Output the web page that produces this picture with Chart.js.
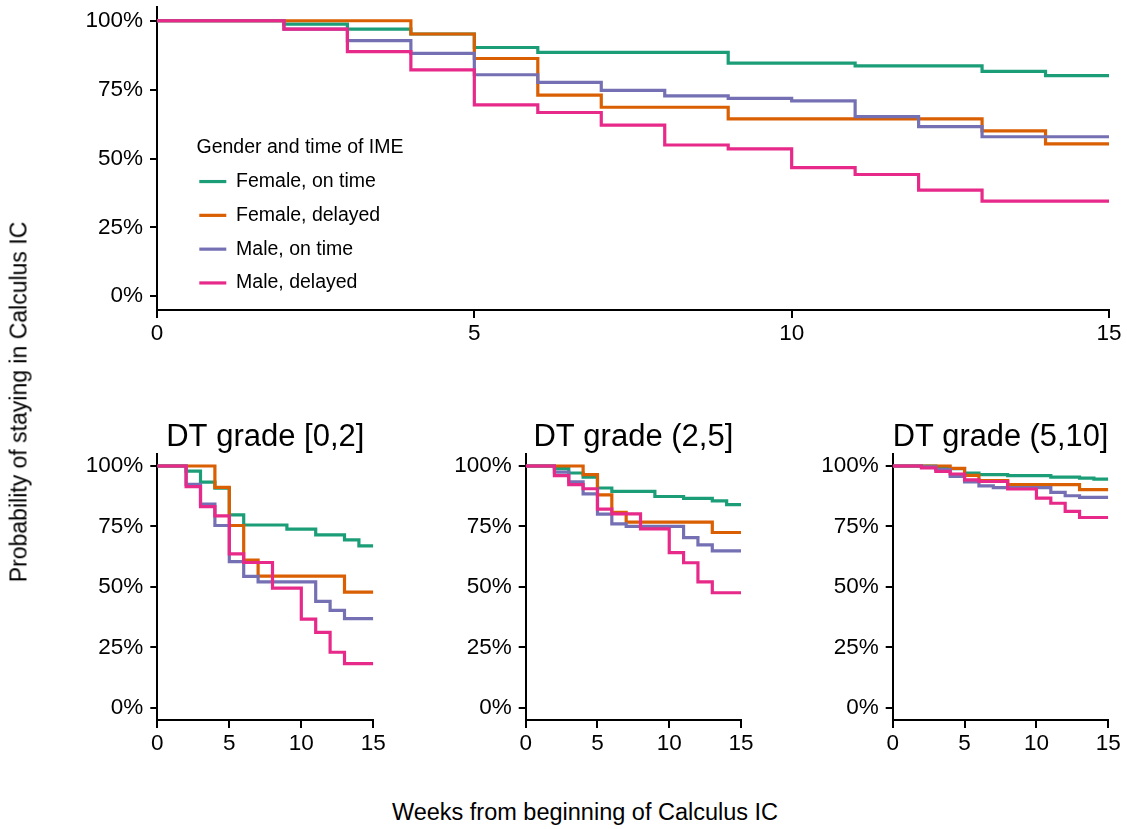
<!DOCTYPE html>
<html>
<head>
<meta charset="utf-8">
<script src="https://cdn.jsdelivr.net/npm/chart.js@4.4.1/dist/chart.umd.min.js"></script>
<style>
  body { margin: 0; background: #fff; }
  #page { position: relative; width: 1127px; height: 829px; overflow: hidden;
          font-family: 'Liberation Sans', Arial, sans-serif; color: #000; }
  canvas { position: absolute; }
  .axis-title { position: absolute; white-space: nowrap; font-size: 23px; }
  #ytitle { left: 19px; top: 402px; transform: translate(-50%, -50%) rotate(-90deg); }
  #xtitle { left: 585px; top: 812px; font-size: 23.5px; transform: translate(-50%, -50%); }
</style>
</head>
<body>
<div id="page">
  <canvas id="overall" width="1127" height="370" style="left:0;top:-20px"></canvas>
  <canvas id="grade1" width="400" height="370" style="left:0;top:400px"></canvas>
  <canvas id="grade2" width="380" height="370" style="left:380px;top:400px"></canvas>
  <canvas id="grade3" width="367" height="370" style="left:760px;top:400px"></canvas>
  <div class="axis-title" id="ytitle">Probability of staying in Calculus IC</div>
  <div class="axis-title" id="xtitle">Weeks from beginning of Calculus IC</div>
</div>
<script>
// weeks 0..15, survival (%) after the step at each week
const weeks = [0, 1, 2, 3, 4, 5, 6, 7, 8, 9, 10, 11, 12, 13, 14, 15];
const groups = ['Female, on time', 'Female, delayed', 'Male, on time', 'Male, delayed'];
const groupColors = ['#1b9e77', '#d95f02', '#7570b3', '#e7298a'];
const percentTicks = [0, 25, 50, 75, 100];
const panelTitles = ['DT grade [0,2]', 'DT grade (2,5]', 'DT grade (5,10]'];

// all students
const allFemaleOnTime  = [100, 100, 98.8, 97.0, 95.2, 90.3, 88.5, 88.5, 88.5, 84.6, 84.6, 83.6, 83.6, 81.6, 80.1, 80.1];
const allFemaleDelayed = [100, 100, 100, 100, 95.2, 86.3, 73.0, 68.6, 68.6, 64.4, 64.4, 64.4, 64.4, 60.0, 55.3, 55.3];
const allMaleOnTime    = [100, 100, 97.0, 92.8, 88.2, 80.4, 77.6, 74.7, 72.7, 71.8, 70.9, 65.2, 61.6, 57.9, 57.9, 57.9];
const allMaleDelayed   = [100, 100, 97.0, 88.8, 82.2, 69.5, 66.7, 62.1, 54.9, 53.5, 46.7, 44.2, 38.5, 34.5, 34.5, 34.5];

// DT grade [0,2]
const g1FemaleOnTime  = [100, 100, 97.9, 93.3, 90.8, 79.8, 75.6, 75.6, 75.6, 73.9, 73.9, 71.5, 71.5, 69.5, 67.0, 67.0];
const g1FemaleDelayed = [100, 100, 100, 100, 91.2, 75.4, 61.1, 54.5, 54.5, 54.5, 54.5, 54.5, 54.5, 47.9, 47.9, 47.9];
const g1MaleOnTime    = [100, 100, 92.4, 84.2, 75.4, 60.5, 54.4, 52.1, 52.1, 52.1, 52.1, 44.0, 40.3, 36.9, 36.9, 36.9];
const g1MaleDelayed   = [100, 100, 91.5, 83.2, 79.4, 63.7, 60.1, 60.1, 49.5, 49.5, 36.7, 31.2, 23.0, 18.3, 18.3, 18.3];

// DT grade (2,5]
const g2FemaleOnTime  = [100, 100, 98.9, 97.1, 95.4, 90.9, 89.5, 89.5, 89.5, 87.4, 87.4, 86.6, 86.6, 85.6, 84.0, 84.0];
const g2FemaleDelayed = [100, 100, 100, 100, 96.4, 88.1, 80.8, 76.8, 76.8, 76.8, 76.8, 76.8, 76.8, 72.5, 72.5, 72.5];
const g2MaleOnTime    = [100, 100, 97.5, 93.4, 88.5, 80.1, 76.1, 75.0, 75.0, 75.0, 75.0, 70.4, 67.4, 64.9, 64.9, 64.9];
const g2MaleDelayed   = [100, 100, 96.0, 92.3, 90.6, 82.2, 80.2, 80.2, 74.0, 74.0, 64.2, 60.0, 52.1, 47.6, 47.6, 47.6];

// DT grade (5,10]
const g3FemaleOnTime  = [100, 100, 100, 98.9, 98.9, 97.1, 96.4, 96.4, 96.0, 96.0, 96.0, 95.4, 95.4, 95.0, 94.6, 94.6];
const g3FemaleDelayed = [100, 100, 100, 100, 99.0, 96.1, 94.0, 94.0, 92.3, 92.3, 92.3, 92.3, 92.3, 90.2, 90.2, 90.2];
const g3MaleOnTime    = [100, 100, 99.6, 98.5, 95.7, 93.4, 91.8, 91.1, 91.1, 91.1, 91.1, 89.1, 87.7, 87.0, 87.0, 87.0];
const g3MaleDelayed   = [100, 100, 99.2, 97.8, 96.7, 94.3, 93.6, 93.6, 90.5, 90.5, 86.7, 84.6, 81.2, 78.7, 78.7, 78.7];

Chart.defaults.font.family = "'Liberation Sans', Arial, sans-serif";
Chart.defaults.color = '#000';
Chart.defaults.animation = false;

function buildDatasets(series) {
  return series.map((vals, i) => ({
    label: groups[i],
    data: weeks.map((w, k) => ({ x: w, y: vals[k] })),
    borderColor: groupColors[i],
    backgroundColor: groupColors[i],
    borderWidth: 3.2,
    pointRadius: 0,
    stepped: 'before',
    fill: false,
    order: series.length - i   // male, delayed drawn on top
  }));
}

function buildScales(yWidth, xHeight) {
  return {
    x: {
      type: 'linear',
      min: 0,
      max: 15,
      ticks: { stepSize: 5, padding: 2, maxRotation: 0, font: { size: 22.5 } },
      grid: { drawOnChartArea: false, tickLength: 8, color: '#000', lineWidth: 2 },
      border: { color: '#000', width: 2 },
      afterFit: s => { s.height = xHeight; }
    },
    y: {
      min: -5,
      max: 105,
      afterBuildTicks: s => { s.ticks = percentTicks.map(v => ({ value: v })); },
      ticks: { padding: 7, font: { size: 22.5, lineHeight: 0.6 }, callback: v => v + '%' },
      grid: { drawOnChartArea: false, tickLength: 7, color: '#000', lineWidth: 2 },
      border: { color: '#000', width: 2 },
      afterFit: s => { s.width = yWidth; }
    }
  };
}

// put the legend inside the plot, at the left
const legendPlacement = {
  id: 'legendPlacement',
  afterLayout(chart) {
    const lg = chart.legend;
    lg.left = chart.chartArea.left + 28;
    lg.top = chart.chartArea.top + 131;
    lg.width = 230;   // title is centred on this width
    lg.right = lg.left + 300;
    lg.bottom = lg.top + 220;
  }
};

new Chart(document.getElementById('overall'), {
  type: 'line',
  data: { datasets: buildDatasets([allFemaleOnTime, allFemaleDelayed, allMaleOnTime, allMaleDelayed]) },
  plugins: [legendPlacement],
  options: {
    responsive: false,
    layout: { autoPadding: false, padding: { top: 27, right: 18, left: 0, bottom: 0 } },
    plugins: {
      tooltip: { enabled: false },
      legend: {
        position: 'chartArea',
        align: 'start',
        title: {
          display: true,
          text: 'Gender and time of IME',
          position: 'center',
          padding: 0,
          font: { size: 19.5, lineHeight: 1 }
        },
        labels: {
          usePointStyle: true,
          pointStyle: 'line',
          pointStyleWidth: 27,
          padding: 14.3,
          font: { size: 19.5 },
          sort: (a, b) => a.datasetIndex - b.datasetIndex
        }
      }
    },
    scales: buildScales(157, 40)
  }
});

const panels = [
  { id: 'grade1', series: [g1FemaleOnTime, g1FemaleDelayed, g1MaleOnTime, g1MaleDelayed], yWidth: 157.3, right: 26.7 },
  { id: 'grade2', series: [g2FemaleOnTime, g2FemaleDelayed, g2MaleOnTime, g2MaleDelayed], yWidth: 145.7, right: 19 },
  { id: 'grade3', series: [g3FemaleOnTime, g3FemaleDelayed, g3MaleOnTime, g3MaleDelayed], yWidth: 132.7, right: 18.7 }
];

panels.forEach((p, i) => {
  new Chart(document.getElementById(p.id), {
    type: 'line',
    data: { datasets: buildDatasets(p.series) },
    options: {
      responsive: false,
      layout: { autoPadding: false, padding: { top: 0, right: p.right, left: 0, bottom: 0 } },
      plugins: {
        tooltip: { enabled: false },
        legend: { display: false },
        title: {
          display: true,
          text: panelTitles[i],
          fullSize: false,
          font: { size: 31, weight: 'normal', lineHeight: 1 },
          padding: { top: 21.5, bottom: 1.4 }
        }
      },
      scales: buildScales(p.yWidth, 50)
    }
  });
});
</script>
</body>
</html>
